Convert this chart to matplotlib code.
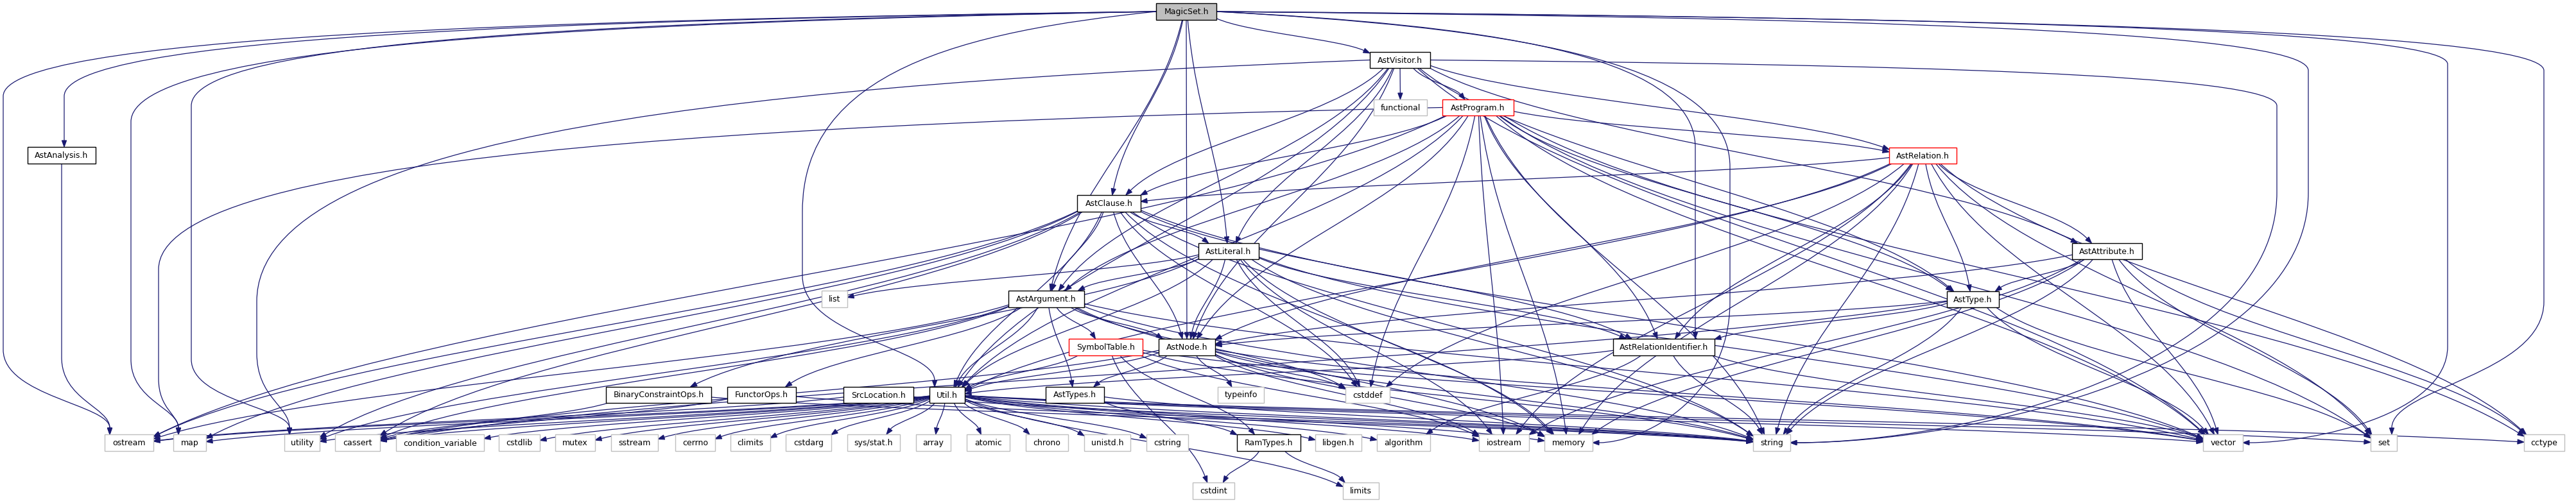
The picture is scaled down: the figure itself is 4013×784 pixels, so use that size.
import numpy as np
import matplotlib
matplotlib.use("Agg")
import matplotlib.pyplot as plt
from matplotlib.path import Path
from matplotlib.patches import PathPatch, Rectangle, Polygon

# ノード名
main_node = "MagicSet.h"
truncated = ["AstProgram.h", "AstRelation.h", "SymbolTable.h"]
project_headers = ["AstAnalysis.h", "AstVisitor.h", "AstClause.h", "AstLiteral.h",
                   "AstAttribute.h", "AstArgument.h", "AstType.h", "AstNode.h",
                   "AstRelationIdentifier.h", "BinaryConstraintOps.h", "FunctorOps.h",
                   "SrcLocation.h", "Util.h", "AstTypes.h", "RamTypes.h"]
system_headers = ["functional", "list", "typeinfo", "cstddef", "ostream", "map", "utility",
                  "cassert", "condition_variable", "cstdlib", "mutex", "sstream", "cerrno",
                  "climits", "cstdarg", "sys/stat.h", "array", "atomic", "chrono", "unistd.h",
                  "cstring", "libgen.h", "algorithm", "iostream", "memory", "string",
                  "vector", "set", "cctype", "cstdint", "limits"]

# include 関係 (src -> dst)
edges_magicset = ["AstAnalysis.h", "ostream", "map", "utility", "Util.h", "AstClause.h",
                  "AstArgument.h", "AstLiteral.h", "AstNode.h", "AstVisitor.h",
                  "AstRelationIdentifier.h", "memory", "string", "vector", "set"]
edges_visitor = ["functional", "AstProgram.h", "AstClause.h", "AstLiteral.h", "AstArgument.h",
                 "AstNode.h", "Util.h", "AstRelation.h", "AstAttribute.h", "AstType.h",
                 "utility", "vector", "string"]
edges_program = ["AstClause.h", "AstRelation.h", "AstRelationIdentifier.h", "AstType.h",
                 "AstNode.h", "AstArgument.h", "Util.h", "map", "ostream", "cstddef",
                 "memory", "string", "vector", "set", "cctype", "iostream"]
edges_relation = ["AstClause.h", "AstAttribute.h", "AstType.h", "AstNode.h",
                  "AstRelationIdentifier.h", "Util.h", "iostream", "memory", "string",
                  "vector", "set", "cctype", "cstddef"]
edges_clause = ["AstLiteral.h", "AstArgument.h", "AstNode.h", "AstRelationIdentifier.h",
                "Util.h", "ostream", "map", "utility", "cassert", "cstddef", "memory",
                "string", "vector"]
edges_literal = ["AstArgument.h", "AstNode.h", "AstRelationIdentifier.h",
                 "BinaryConstraintOps.h", "Util.h", "list", "iostream", "memory", "string",
                 "vector", "cstddef"]
edges_attribute = ["AstNode.h", "AstType.h", "cctype", "set", "vector", "string", "memory",
                   "iostream"]
edges_argument = ["AstNode.h", "AstTypes.h", "FunctorOps.h", "SymbolTable.h", "Util.h",
                  "cassert", "ostream", "utility", "cstddef", "memory", "string", "vector"]
edges_type = ["AstNode.h", "AstRelationIdentifier.h", "set", "string", "vector", "cassert"]
edges_symtab = ["RamTypes.h", "Util.h", "cstdint", "iostream", "string", "vector"]
edges_node = ["AstTypes.h", "Util.h", "typeinfo", "cassert", "iostream", "memory", "string",
              "vector", "cstddef"]
edges_relid = ["Util.h", "algorithm", "string", "vector"]
edges_types = ["RamTypes.h", "string"]
edges_srcloc = ["string", "ostream"]
edges_functor = ["cassert", "string"]
edges_binop = ["cassert", "string"]
edges_ramtypes = ["cstdint", "limits"]
edges_util = ["ostream", "map", "utility", "cassert", "condition_variable", "cstdlib", "mutex",
              "sstream", "cerrno", "climits", "cstdarg", "sys/stat.h", "array", "atomic",
              "chrono", "unistd.h", "cstring", "libgen.h", "algorithm", "iostream", "memory",
              "string", "vector", "set", "cctype", "limits"]

edges = ([("MagicSet.h", d) for d in edges_magicset] +
         [("AstAnalysis.h", "ostream")] +
         [("AstVisitor.h", d) for d in edges_visitor] +
         [("AstProgram.h", d) for d in edges_program] +
         [("AstRelation.h", d) for d in edges_relation] +
         [("AstClause.h", d) for d in edges_clause] +
         [("AstLiteral.h", d) for d in edges_literal] +
         [("AstAttribute.h", d) for d in edges_attribute] +
         [("AstArgument.h", d) for d in edges_argument] +
         [("AstType.h", d) for d in edges_type] +
         [("SymbolTable.h", d) for d in edges_symtab] +
         [("AstNode.h", d) for d in edges_node] +
         [("AstRelationIdentifier.h", d) for d in edges_relid] +
         [("AstTypes.h", d) for d in edges_types] +
         [("SrcLocation.h", d) for d in edges_srcloc] +
         [("FunctorOps.h", d) for d in edges_functor] +
         [("BinaryConstraintOps.h", d) for d in edges_binop] +
         [("RamTypes.h", d) for d in edges_ramtypes] +
         [("Util.h", d) for d in edges_util])

# ======================
# レイアウト (x0, x1, y0, y1) ピクセル
# ======================
bottom_row = [("ostream", 163, 239), ("map", 270, 321), ("utility", 443, 498),
              ("cassert", 522, 592), ("condition_variable", 617, 754), ("cstdlib", 777, 841),
              ("mutex", 865, 927), ("sstream", 952, 1025), ("cerrno", 1052, 1114),
              ("climits", 1138, 1200), ("cstdarg", 1224, 1295), ("sys/stat.h", 1320, 1402),
              ("array", 1427, 1481), ("atomic", 1506, 1573), ("chrono", 1598, 1664),
              ("unistd.h", 1689, 1761), ("cstring", 1786, 1851), ("RamTypes.h", 1927, 2026),
              ("libgen.h", 2049, 2121), ("algorithm", 2145, 2228), ("iostream", 2304, 2382),
              ("memory", 2406, 2481), ("string", 2731, 2789), ("vector", 3432, 3494),
              ("set", 3693, 3734), ("cctype", 3932, 3995)]
layout = {
    "MagicSet.h": (1801, 1895, 5, 31),
    "AstAnalysis.h": (43, 149, 229, 255),
    "AstVisitor.h": (2134, 2228, 81, 106),
    "functional": (2140, 2223, 155, 180),
    "AstProgram.h": (2247, 2358, 155, 180),
    "AstRelation.h": (2943, 3048, 230, 255),
    "AstClause.h": (1678, 1777, 304, 330),
    "AstLiteral.h": (1867, 1961, 379, 404),
    "AstAttribute.h": (3228, 3337, 379, 404),
    "AstArgument.h": (1571, 1689, 453, 479),
    "list": (1280, 1320, 453, 479),
    "AstType.h": (3033, 3114, 454, 479),
    "SymbolTable.h": (1665, 1780, 528, 554),
    "AstNode.h": (1805, 1893, 528, 554),
    "AstRelationIdentifier.h": (2513, 2671, 528, 554),
    "BinaryConstraintOps.h": (944, 1108, 603, 628),
    "FunctorOps.h": (1133, 1240, 603, 628),
    "SrcLocation.h": (1314, 1423, 603, 628),
    "Util.h": (1448, 1503, 603, 628),
    "AstTypes.h": (1629, 1720, 603, 628),
    "typeinfo": (1897, 1969, 603, 628),
    "cstddef": (2096, 2165, 603, 628),
    "cstdint": (1858, 1923, 752, 778),
    "limits": (2092, 2148, 752, 778),
}
for name, a, b in bottom_row:
    layout[name] = (a, b, 677, 703)

# 長い迂回路: (lane x, 縦区間開始 y, 終了 y, 入る側)
routes = {
    ("MagicSet.h", "ostream"): (5, 150, 545, "top"),
    ("MagicSet.h", "AstAnalysis.h"): (100, 150, 200, "top"),
    ("MagicSet.h", "map"): (204, 190, 560, "top"),
    ("MagicSet.h", "utility"): (298, 165, 560, "top"),
    ("MagicSet.h", "Util.h"): (1250, 330, 430, "top"),
    ("AstProgram.h", "map"): (247, 420, 590, "top"),
    ("AstVisitor.h", "utility"): (400, 470, 550, "top"),
    ("AstAnalysis.h", "ostream"): (96, 260, 557, "top"),
    ("MagicSet.h", "AstRelationIdentifier.h"): (2641, 230, 400, "top"),
    ("MagicSet.h", "memory"): (2695, 260, 470, "side"),
    ("AstVisitor.h", "string"): (3547, 165, 300, "side"),
    ("MagicSet.h", "string"): (3596, 110, 300, "side"),
    ("MagicSet.h", "vector"): (3813, 100, 540, "side"),
    ("MagicSet.h", "set"): (3963, 110, 470, "top"),
}

edge_color = "#191970"


def center(b):
    return (0.5 * (b[0] + b[1]), 0.5 * (b[2] + b[3]))


def clip(b, p, q):
    # p(中心)から q への直線が箱から出る点
    hw = 0.5 * (b[1] - b[0])
    hh = 0.5 * (b[3] - b[2])
    dx, dy = q[0] - p[0], q[1] - p[1]
    t = min(hw / abs(dx) if dx != 0 else 1e9, hh / abs(dy) if dy != 0 else 1e9)
    return (p[0] + t * dx, p[1] + t * dy)


def arrow_end(ax, verts, codes):
    # 最後の点に矢じり, パスを少し短く
    c = np.array(verts[-2])
    e = np.array(verts[-1])
    d = e - c
    d = d / np.hypot(*d)
    L, W = 10.0, 3.6
    base = e - d * L
    verts[-1] = tuple(base)
    perp = np.array([-d[1], d[0]])
    ax.add_patch(PathPatch(Path(verts, codes), fill=False, ec=edge_color, lw=0.9,
                           capstyle="butt", zorder=1))
    ax.add_patch(Polygon([e, base + perp * W, base - perp * W], closed=True,
                         fc=edge_color, ec=edge_color, lw=0.8, zorder=1))


fig = plt.figure(figsize=(40.13, 7.84), dpi=100)
ax = fig.add_axes([0, 0, 1, 1])
ax.set_xlim(0, 4013)
ax.set_ylim(784, 0)
ax.axis("off")

for s, d in edges:
    bs, bd = layout[s], layout[d]
    cs, cd = center(bs), center(bd)
    if (s, d) in routes:
        lx, ya, yb, mode = routes[(s, d)]
        if lx < bs[0]:
            p0 = (bs[0], cs[1])
        elif lx > bs[1]:
            p0 = (bs[1], cs[1])
        else:
            p0 = (lx, bs[3])
        verts = [p0,
                 (p0[0] + (lx - p0[0]) * 0.55, p0[1] + (ya - p0[1]) * 0.1),
                 (lx, p0[1] + (ya - p0[1]) * 0.3),
                 (lx, ya),
                 (lx, yb)]
        codes = [Path.MOVETO, Path.CURVE4, Path.CURVE4, Path.CURVE4, Path.LINETO]
        if mode == "top":
            ex = min(max(lx, bd[0] + 8), bd[1] - 8)
            e = (ex, bd[2])
            verts += [(lx, yb + (e[1] - yb) * 0.55), (ex, e[1] - (e[1] - yb) * 0.35), e]
        else:
            ex = bd[1] if lx > cd[0] else bd[0]
            e = (ex, cd[1])
            verts += [(lx, yb + (e[1] - yb) * 0.7), (ex + (lx - ex) * 0.35, e[1]), e]
        codes += [Path.CURVE4] * 3
        arrow_end(ax, verts, codes)
        continue
    p0 = clip(bs, cs, cd)
    p3 = clip(bd, cd, cs)
    dx, dy = p3[0] - p0[0], p3[1] - p0[1]
    verts = [p0, (p0[0] + dx * 0.2, p0[1] + dy * 0.4),
             (p3[0] - dx * 0.2, p3[1] - dy * 0.4), p3]
    codes = [Path.MOVETO, Path.CURVE4, Path.CURVE4, Path.CURVE4]
    arrow_end(ax, verts, codes)

# ノード描画
for name, b in layout.items():
    if name == main_node:
        fc, ec = "#bfbfbf", "black"
    elif name in truncated:
        fc, ec = "white", "red"
    elif name in system_headers:
        fc, ec = "white", "#bfbfbf"
    else:
        fc, ec = "white", "black"
    ax.add_patch(Rectangle((b[0], b[2]), b[1] - b[0], b[3] - b[2], fc=fc, ec=ec,
                           lw=1.0, zorder=3))
    c = center(b)
    ax.text(c[0], c[1] + 0.5, name, ha="center", va="center", fontsize=9,
            family="DejaVu Sans", color="black", zorder=4)

fig.savefig("out.png", dpi=100)
